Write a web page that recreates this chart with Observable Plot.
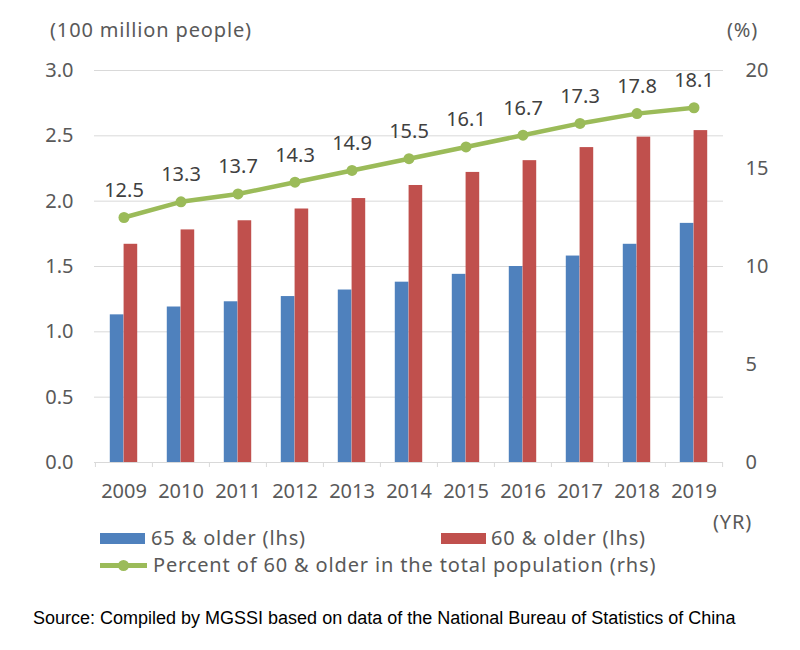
<!DOCTYPE html>
<html>
<head>
<meta charset="utf-8">
<script src="https://cdn.jsdelivr.net/npm/d3@7"></script>
<script src="https://cdn.jsdelivr.net/npm/@observablehq/plot@0.6"></script>
<style>
  html, body { margin: 0; padding: 0; background: #fff; }
  #page { position: relative; width: 800px; height: 650px; overflow: hidden; font-family: "Noto Sans", sans-serif; color: #595959; }
  #chart { position: absolute; left: 0; top: 0; }
  .lbl { position: absolute; font-size: 20px; line-height: 24px; white-space: nowrap; letter-spacing: 0.85px; }
  .sw { position: absolute; }
  #source { position: absolute; left: 33px; top: 607px; font-family: "Liberation Sans", Arial, sans-serif; font-size: 18px; line-height: 22px; color: #000; white-space: nowrap; }
</style>
</head>
<body>
<div id="page">
  <div id="chart"></div>
  <div class="lbl" style="left:50px; top:18px;">(100 million people)</div>
  <div class="lbl" style="left:727px; top:18px;">(%)</div>
  <div class="lbl" style="left:713px; top:510px;">(YR)</div>

  <div class="sw" style="left:100px; top:533px; width:45px; height:11px; background:#4F81BD;"></div>
  <div class="lbl" style="left:151px; top:526px;">65 &amp; older (lhs)</div>
  <div class="sw" style="left:441px; top:533px; width:45px; height:11px; background:#C0504D;"></div>
  <div class="lbl" style="left:491px; top:526px;">60 &amp; older (lhs)</div>

  <div class="sw" style="left:100px; top:563px; width:47px; height:5px; background:#9BBB59;"></div>
  <div class="sw" style="left:118px; top:560px; width:11px; height:11px; border-radius:50%; background:#9BBB59;"></div>
  <div class="lbl" style="left:153px; top:553px;">Percent of 60 &amp; older in the total population (rhs)</div>

  <div id="source">Source: Compiled by MGSSI based on data of the National Bureau of Statistics of China</div>
</div>
<script>
const years = ["2009","2010","2011","2012","2013","2014","2015","2016","2017","2018","2019"];
const age65 = [1.13, 1.19, 1.23, 1.27, 1.32, 1.38, 1.44, 1.50, 1.58, 1.67, 1.83];
const age60 = [1.67, 1.78, 1.85, 1.94, 2.02, 2.12, 2.22, 2.31, 2.41, 2.49, 2.54];
const pct   = [12.5, 13.3, 13.7, 14.3, 14.9, 15.5, 16.1, 16.7, 17.3, 17.8, 18.1];
const leftTicks = [0, 0.5, 1.0, 1.5, 2.0, 2.5, 3.0];
const rightTicks = [0, 5, 10, 15, 20];

const LEFT_MAX = 3, RIGHT_MAX = 20;
const k = LEFT_MAX / RIGHT_MAX;

const rows = years.map((y, i) => ({year: y, a65: age65[i], a60: age60[i], pct: pct[i], pctL: pct[i] * k}));

const W = 800, H = 520, mL = 94, mR = 77, mT = 70, mB = 58;
const band = (W - mL - mR) / years.length;
const half = band / 2;
const barW = 13.8;
const font = "Noto Sans";

const chart = Plot.plot({
  width: W, height: H,
  marginLeft: mL, marginRight: mR, marginTop: mT, marginBottom: mB,
  style: {fontFamily: font, fontSize: "20px", color: "#595959", background: "transparent"},
  x: {type: "band", domain: years, padding: 0, axis: null},
  y: {domain: [0, LEFT_MAX], axis: null},
  marks: [
    Plot.gridY(leftTicks.filter(d => d > 0), {stroke: "#d9d9d9", strokeOpacity: 1, strokeWidth: 1}),
    Plot.ruleY([0], {stroke: "#d9d9d9", strokeWidth: 1}),
    Plot.ruleX(years, {x: d => d, y1: 0, y2: 0, dx: -half, insetBottom: -5, stroke: "#d9d9d9"}),
    Plot.ruleX([years[years.length - 1]], {x: d => d, y1: 0, y2: 0, dx: half, insetBottom: -5, stroke: "#d9d9d9"}),
    Plot.barY(rows, {x: "year", y: "a65", fill: "#4F81BD", insetLeft: half - barW, insetRight: half}),
    Plot.barY(rows, {x: "year", y: "a60", fill: "#C0504D", insetLeft: half, insetRight: half - barW}),
    Plot.line(rows, {x: "year", y: "pctL", stroke: "#9BBB59", strokeWidth: 4.5}),
    Plot.dot(rows, {x: "year", y: "pctL", r: 5.5, fill: "#9BBB59"}),
    Plot.text(rows, {x: "year", y: "pctL", text: d => d.pct.toFixed(1), dy: -27, fontSize: 20, fill: "#404040"}),
    Plot.axisX({anchor: "bottom", tickSize: 0, tickPadding: 21, fontSize: 20, fill: "#595959", label: null}),
    Plot.axisY({anchor: "left", ticks: leftTicks, tickFormat: d3.format(".1f"), tickSize: 0, tickPadding: 21, fontSize: 20, fill: "#595959", label: null}),
    Plot.axisY({anchor: "right", ticks: rightTicks.map(v => v * k), tickFormat: v => String(Math.round(v / k)), tickSize: 0, tickPadding: 22, fontSize: 20, fill: "#595959", label: null})
  ]
});
document.getElementById("chart").appendChild(chart);
</script>
</body>
</html>
